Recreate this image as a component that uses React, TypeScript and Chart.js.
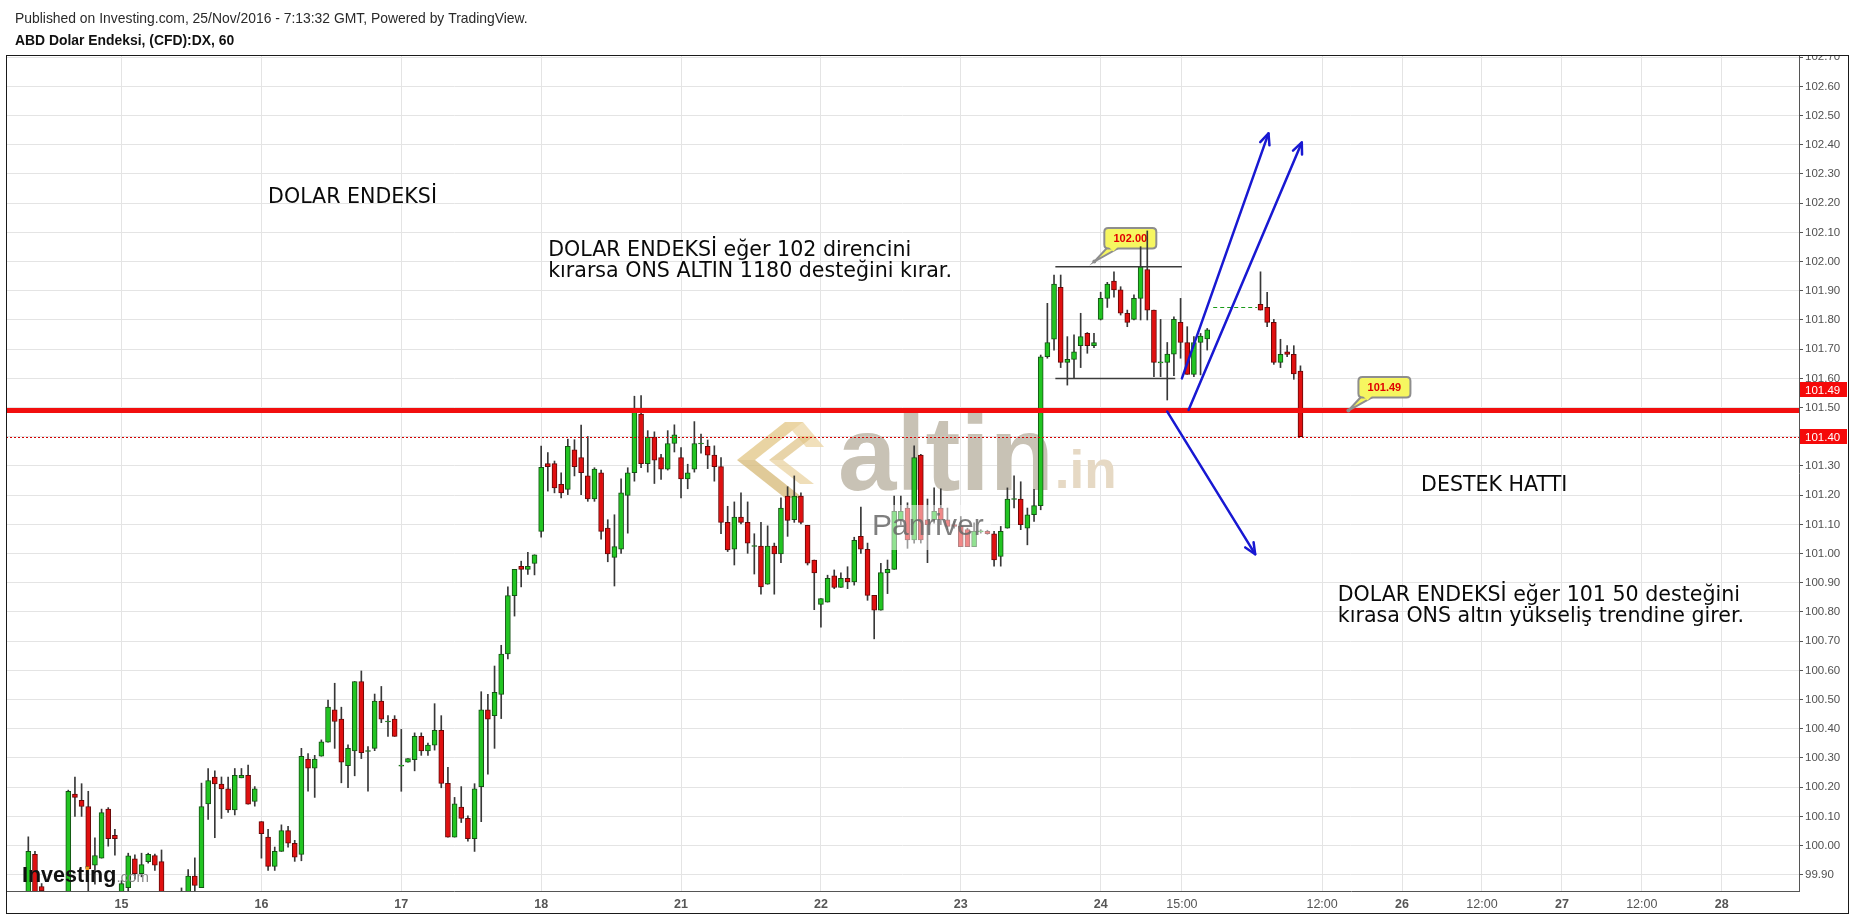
import { useEffect, useRef } from "react";
import { Chart, registerables } from "chart.js";

Chart.register(...registerables);

const W = 1851;
const H = 916;

// Hourly slots that hold a bar; the holiday pause on the 24th/25th stays empty.
const slotRuns: [number, number][] = [
  [3, 180],
  [188, 194],
];

// ABD Dolar Endeksi (CFD):DX, 60 dk. mumlar
const open = [
  99.80, 99.97, 99.86, 99.83, 99.78, 99.76, 99.80, 100.176, 100.155, 100.134,
  99.933, 99.957, 100.125, 100.035, 99.84, 99.856, 99.955, 99.904, 99.945, 99.966,
  99.945, 99.82, 99.78, 99.80, 99.83, 99.896, 99.856, 100.143, 100.235, 100.211,
  100.194, 100.122, 100.232, 100.241, 100.151, 100.082, 100.029, 99.929, 99.98, 100.051,
  100.008, 99.97, 100.296, 100.265, 100.306, 100.354, 100.465, 100.433, 100.274, 100.324,
  100.562, 100.324, 100.333, 100.495, 100.425, 100.433, 100.274, 100.286, 100.294, 100.374,
  100.324, 100.344, 100.395, 100.213, 100.029, 100.132, 100.093, 100.024, 100.202, 100.465,
  100.445, 100.518, 100.656, 100.856, 100.956, 100.946, 100.966, 101.076, 101.308, 101.308,
  101.237, 101.22, 101.355, 101.329, 101.266, 101.187, 101.277, 101.087, 100.987, 101.015,
  101.199, 101.277, 101.478, 101.308, 101.398, 101.329, 101.289, 101.377, 101.329, 101.256,
  101.289, 101.377, 101.367, 101.337, 101.298, 101.107, 101.015, 101.125, 101.107, 101.026,
  101.026, 100.895, 101.026, 100.999, 101.197, 101.116, 101.197, 101.097, 100.978, 100.826,
  100.834, 100.924, 100.884, 100.915, 100.903, 101.059, 101.015, 100.857, 100.806, 100.934,
  100.946, 101.116, 101.156, 101.047, 101.337, 101.116, 101.116, 101.156, 101.116, 101.099,
  101.093, 101.082, 101.024, 101.076, 101.076, 101.068, 100.99, 101.087, 101.187, 101.187,
  101.087, 101.133, 101.164, 101.674, 101.734, 101.912, 101.655, 101.665, 101.712, 101.754,
  101.712, 101.802, 101.874, 101.933, 101.903, 101.823, 101.802, 101.874, 101.973, 101.834,
  101.655, 101.655, 101.683, 101.792, 101.723, 101.614, 101.723, 101.735,
  101.854, 101.843, 101.792, 101.655, 101.691, 101.682, 101.625,
];

const high = [
  100.03, 99.98, 99.87, 99.84, 99.82, 99.83, 100.19, 100.235, 100.212, 100.186,
  100.027, 100.125, 100.13, 100.056, 99.88, 99.974, 99.968, 99.974, 99.974, 99.971,
  99.985, 99.83, 99.82, 99.855, 99.918, 99.958, 100.214, 100.264, 100.256, 100.235,
  100.235, 100.264, 100.264, 100.276, 100.202, 100.082, 100.056, 99.995, 100.071, 100.066,
  100.018, 100.333, 100.315, 100.309, 100.362, 100.498, 100.556, 100.474, 100.345, 100.562,
  100.598, 100.339, 100.519, 100.545, 100.445, 100.445, 100.398, 100.298, 100.386, 100.386,
  100.351, 100.486, 100.445, 100.268, 100.165, 100.202, 100.102, 100.212, 100.527, 100.518,
  100.615, 100.686, 100.886, 100.946, 100.974, 101.004, 100.996, 101.368, 101.346, 101.317,
  101.277, 101.392, 101.39, 101.44, 101.401, 101.294, 101.286, 101.116, 101.133, 101.256,
  101.294, 101.539, 101.541, 101.421, 101.417, 101.34, 101.421, 101.441, 101.363, 101.306,
  101.452, 101.409, 101.389, 101.369, 101.329, 101.162, 101.177, 101.208, 101.177, 101.068,
  101.107, 101.095, 101.036, 101.191, 101.229, 101.266, 101.208, 101.097, 100.978, 100.846,
  100.926, 100.944, 100.934, 100.955, 101.056, 101.159, 101.036, 100.857, 100.967, 100.978,
  101.197, 101.197, 101.174, 101.369, 101.34, 101.187, 101.225, 101.222, 101.156, 101.11,
  101.127, 101.087, 101.105, 101.082, 101.08, 101.076, 101.093, 101.225, 101.266, 101.246,
  101.156, 101.22, 101.68, 101.857, 101.954, 101.954, 101.743, 101.749, 101.823, 101.757,
  101.754, 101.895, 101.929, 101.965, 101.914, 101.834, 101.886, 102.051, 102.105, 101.834,
  101.802, 101.723, 101.811, 101.874, 101.777, 101.743, 101.754, 101.771,
  101.965, 101.895, 101.802, 101.734, 101.712, 101.712, 101.643,
];

const low = [
  99.78, 99.80, 99.83, 99.75, 99.72, 99.74, 99.79, 100.10, 100.10, 99.845,
  99.868, 99.957, 99.998, 99.967, 99.83, 99.838, 99.886, 99.893, 99.94, 99.915,
  99.80, 99.75, 99.74, 99.78, 99.82, 99.845, 99.856, 100.09, 100.027, 100.093,
  100.114, 100.105, 100.232, 100.142, 100.135, 99.957, 99.915, 99.915, 99.98, 99.995,
  99.946, 99.948, 100.186, 100.165, 100.306, 100.354, 100.333, 100.215, 100.198, 100.239,
  100.298, 100.186, 100.325, 100.421, 100.374, 100.374, 100.186, 100.286, 100.256, 100.309,
  100.309, 100.327, 100.198, 100.029, 100.029, 100.079, 100.015, 99.98, 100.082, 100.245,
  100.333, 100.435, 100.639, 100.786, 100.886, 100.929, 100.927, 101.056, 101.214, 101.208,
  101.191, 101.202, 101.266, 101.202, 101.179, 101.179, 101.049, 100.972, 100.889, 101.001,
  101.07, 101.248, 101.294, 101.279, 101.24, 101.254, 101.286, 101.348, 101.191, 101.222,
  101.279, 101.344, 101.291, 101.248, 101.068, 101.007, 100.961, 101.102, 101.001, 100.93,
  100.861, 100.895, 100.861, 100.969, 101.059, 101.107, 101.102, 100.961, 100.808, 100.748,
  100.834, 100.88, 100.884, 100.88, 100.892, 101.001, 100.84, 100.708, 100.806, 100.863,
  100.946, 101.099, 101.018, 101.036, 101.036, 100.969, 101.104, 101.099, 101.082, 101.087,
  101.024, 101.024, 101.024, 101.07, 101.066, 100.957, 100.957, 101.087, 101.156, 101.082,
  101.03, 101.11, 101.15, 101.669, 101.697, 101.637, 101.577, 101.60, 101.637, 101.686,
  101.705, 101.80, 101.843, 101.878, 101.817, 101.777, 101.80, 101.80, 101.80, 101.606,
  101.606, 101.526, 101.609, 101.669, 101.614, 101.606, 101.612, 101.697,
  101.834, 101.777, 101.648, 101.637, 101.674, 101.597, 101.40,
];

const close = [
  99.98, 99.82, 99.845, 99.78, 99.76, 99.80, 100.186, 100.165, 100.134, 99.921,
  99.966, 100.113, 100.024, 100.024, 99.87, 99.965, 99.904, 99.935, 99.97, 99.933,
  99.82, 99.78, 99.80, 99.82, 99.896, 99.864, 100.134, 100.223, 100.211, 100.194,
  100.122, 100.241, 100.241, 100.142, 100.194, 100.041, 99.929, 99.98, 100.051, 100.008,
  99.96, 100.306, 100.265, 100.296, 100.355, 100.474, 100.425, 100.286, 100.333, 100.562,
  100.318, 100.324, 100.495, 100.433, 100.425, 100.374, 100.274, 100.298, 100.374, 100.324,
  100.344, 100.395, 100.213, 100.029, 100.143, 100.093, 100.024, 100.194, 100.465, 100.433,
  100.525, 100.656, 100.856, 100.946, 100.946, 100.956, 100.996, 101.295, 101.298, 101.225,
  101.208, 101.367, 101.298, 101.277, 101.187, 101.289, 101.076, 100.999, 101.024, 101.208,
  101.277, 101.487, 101.308, 101.398, 101.32, 101.289, 101.377, 101.407, 101.256, 101.277,
  101.377, 101.377, 101.337, 101.298, 101.107, 101.013, 101.125, 101.107, 101.036, 101.026,
  100.886, 101.026, 100.999, 101.156, 101.114, 101.197, 101.107, 100.967, 100.934, 100.846,
  100.915, 100.884, 100.915, 100.903, 101.045, 101.015, 100.857, 100.806, 100.935, 100.946,
  101.145, 101.145, 101.047, 101.329, 101.047, 101.099, 101.145, 101.116, 101.093, 101.093,
  101.024, 101.024, 101.076, 101.076, 101.068, 100.978, 101.076, 101.187, 101.187, 101.099,
  101.133, 101.164, 101.674, 101.723, 101.923, 101.655, 101.665, 101.691, 101.743, 101.712,
  101.723, 101.874, 101.923, 101.903, 101.823, 101.792, 101.874, 101.983, 101.834, 101.655,
  101.655, 101.683, 101.802, 101.723, 101.614, 101.723, 101.745, 101.766,
  101.834, 101.792, 101.655, 101.682, 101.682, 101.615, 101.40,
];

// Price axis
const yTickValues = [
  99.9, 100.0, 100.1, 100.2, 100.3, 100.4, 100.5, 100.6, 100.7, 100.8, 100.9, 101.0,
  101.1, 101.2, 101.3, 101.4, 101.5, 101.6, 101.7, 101.8, 101.9, 102.0, 102.1, 102.2,
  102.3, 102.4, 102.5, 102.6, 102.7,
];
const yMin = 99.8445;
const yMax = 102.7075;

// Time axis (slot positions and their labels)
const xTickSlots = [17, 38, 59, 80, 101, 122, 143, 164, 176.2, 197.25, 209.25, 221.25, 233.25, 245.25, 257.25];
const xTickLabels = ["15", "16", "17", "18", "21", "22", "23", "24", "15:00", "12:00", "26", "12:00", "27", "12:00", "28"];
const xMin = -0.35;
const xMax = 268.85;

// Drawn levels and tools
const supportLevel = 101.49;
const resistanceMark = 102.0;
const rangeTop = { from: 157.2, to: 176.2, value: 101.982 };
const rangeBottom = { from: 157.2, to: 175.2, value: 101.6 };
const gapLine = { from: 180.9, to: 187.5, value: 101.843 };
const arrows = [
  { s0: 176.2, v0: 101.6, s1: 189.2, v1: 102.439 },
  { s0: 177.2, v0: 101.492, s1: 194.2, v1: 102.408 },
  { s0: 174.0, v0: 101.486, s1: 187.2, v1: 100.998 },
];
const callouts = [
  { slot: 163.05, value: resistanceMark },
  { slot: 201.2, value: supportLevel },
];
const notes = [
  { slot: 39.0, value: 102.202, lines: ["DOLAR ENDEKSİ"] },
  { slot: 81.05, value: 102.019, lines: ["DOLAR ENDEKSİ eğer 102 direncini", "kırarsa ONS ALTIN 1180 desteğini kırar."] },
  { slot: 212.1, value: 101.215, lines: ["DESTEK HATTI"] },
  { slot: 199.6, value: 100.836, lines: ["DOLAR ENDEKSİ eğer 101 50 desteğini", "kırasa ONS altın yükseliş trendine girer."] },
];
const NOTE_LINE_GAP = 20.5;

const slots: number[] = [];
slotRuns.forEach(([a, b]) => {
  for (let s = a; s <= b; s++) slots.push(s);
});

const lastClose = close[close.length - 1];

const UP_FILL = "#22c422";
const UP_EDGE = "#145214";
const DOWN_FILL = "#e01010";
const DOWN_EDGE = "#650808";

const SANS = '"Liberation Sans", Arial, sans-serif';
const NOTE_FONT = '20.6px "DejaVu Sans", Verdana, sans-serif';

function drawArrow(ctx: CanvasRenderingContext2D, x0: number, y0: number, x1: number, y1: number) {
  ctx.beginPath();
  ctx.moveTo(x0, y0);
  ctx.lineTo(x1, y1);
  ctx.stroke();
  const ang = Math.atan2(y1 - y0, x1 - x0);
  const len = 12;
  const spread = 0.42;
  ctx.beginPath();
  ctx.moveTo(x1 - len * Math.cos(ang - spread), y1 - len * Math.sin(ang - spread));
  ctx.lineTo(x1, y1);
  ctx.lineTo(x1 - len * Math.cos(ang + spread), y1 - len * Math.sin(ang + spread));
  ctx.stroke();
}

function roundRect(ctx: CanvasRenderingContext2D, x: number, y: number, w: number, h: number, r: number) {
  ctx.beginPath();
  ctx.moveTo(x + r, y);
  ctx.lineTo(x + w - r, y);
  ctx.quadraticCurveTo(x + w, y, x + w, y + r);
  ctx.lineTo(x + w, y + h - r);
  ctx.quadraticCurveTo(x + w, y + h, x + w - r, y + h);
  ctx.lineTo(x + r, y + h);
  ctx.quadraticCurveTo(x, y + h, x, y + h - r);
  ctx.lineTo(x, y + r);
  ctx.quadraticCurveTo(x, y, x + r, y);
  ctx.closePath();
}

function drawCallout(ctx: CanvasRenderingContext2D, ax: number, ay: number, text: string) {
  const bx = ax + 10;
  const bw = 52;
  const bh = 20.5;
  const bb = ay - 13;
  const bt = bb - bh;
  ctx.save();
  // tail
  ctx.beginPath();
  ctx.moveTo(bx + 3, bb - 1);
  ctx.lineTo(ax, ay);
  ctx.lineTo(bx + 15, bb - 1);
  ctx.closePath();
  ctx.fillStyle = "#f6f660";
  ctx.strokeStyle = "#8e8e8e";
  ctx.lineWidth = 2;
  ctx.fill();
  ctx.stroke();
  // box
  roundRect(ctx, bx, bt, bw, bh, 4);
  ctx.fill();
  ctx.stroke();
  ctx.beginPath();
  ctx.moveTo(bx + 4.5, bb - 1.5);
  ctx.lineTo(bx + 13.5, bb - 1.5);
  ctx.lineTo(bx + 9, bb + 3);
  ctx.closePath();
  ctx.fill();
  // text
  ctx.fillStyle = "#e00000";
  ctx.font = `bold 11px ${SANS}`;
  ctx.textAlign = "center";
  ctx.textBaseline = "middle";
  ctx.fillText(text, bx + bw / 2, bt + bh / 2 + 0.5);
  // anchor point
  ctx.beginPath();
  ctx.arc(ax, ay, 2, 0, Math.PI * 2);
  ctx.fillStyle = "#8e8e8e";
  ctx.fill();
  ctx.restore();
}

const overlayPlugin = {
  id: "dxOverlay",
  beforeDatasetsDraw(chart: any) {
    const { ctx, chartArea: a } = chart;
    const xs = chart.scales.x;
    const ys = chart.scales.y;
    ctx.save();
    ctx.beginPath();
    ctx.rect(a.left, a.top, a.right - a.left, a.bottom - a.top);
    ctx.clip();

    // altin.in mark behind the candles
    const L = a.left;
    const T = a.top;
    const poly = (pts: number[][], color: string) => {
      ctx.beginPath();
      ctx.moveTo(L + pts[0][0], T + pts[0][1]);
      for (let i = 1; i < pts.length; i++) ctx.lineTo(L + pts[i][0], T + pts[i][1]);
      ctx.closePath();
      ctx.fillStyle = color;
      ctx.fill();
    };
    poly([[731, 405], [779, 367], [797, 367], [749, 405]], "rgba(226,198,132,0.75)");
    poly([[731, 405], [749, 405], [797, 443], [779, 443]], "rgba(214,184,118,0.75)");
    poly([[779, 367], [797, 367], [818, 392], [800, 392]], "rgba(236,214,164,0.75)");
    poly([[763, 405], [794, 381], [808, 381], [777, 405]], "rgba(222,194,132,0.7)");
    poly([[763, 405], [777, 405], [808, 429], [794, 429]], "rgba(232,208,155,0.7)");

    ctx.font = `bold 105px ${SANS}`;
    ctx.fillStyle = "#c8c2b5";
    ctx.textBaseline = "alphabetic";
    ctx.textAlign = "left";
    ctx.fillText("altin", L + 832, T + 435);
    const wAltin = ctx.measureText("altin").width;
    ctx.font = `bold 53px ${SANS}`;
    ctx.fillStyle = "#e6d9c4";
    ctx.fillText(".in", L + 832 + wAltin + 1, T + 433);

    // 102.00 note sits under the wicks that poke through it
    const c0 = callouts[0];
    drawCallout(ctx, xs.getPixelForValue(c0.slot), ys.getPixelForValue(c0.value), c0.value.toFixed(2));
    ctx.restore();
  },
  afterDatasetsDraw(chart: any) {
    const { ctx, chartArea: a } = chart;
    const xs = chart.scales.x;
    const ys = chart.scales.y;
    const X = (s: number) => xs.getPixelForValue(s);
    const Y = (v: number) => ys.getPixelForValue(v);
    ctx.save();
    ctx.beginPath();
    ctx.rect(a.left, a.top, a.right - a.left, a.bottom - a.top);
    ctx.clip();

    // Panriver stamp with its pale backing
    ctx.fillStyle = "rgba(255,255,255,0.5)";
    ctx.fillRect(a.left + 879, a.top + 450, 106, 45);
    ctx.font = `30px ${SANS}`;
    ctx.fillStyle = "rgba(105,105,105,0.85)";
    ctx.textAlign = "left";
    ctx.textBaseline = "alphabetic";
    ctx.fillText("Panriver", a.left + 866, a.top + 480);

    // last price (dashed) and support level (thick)
    ctx.strokeStyle = "#d40000";
    ctx.lineWidth = 1;
    ctx.setLineDash([2, 2]);
    ctx.beginPath();
    ctx.moveTo(a.left, Math.round(Y(lastClose)) + 0.5);
    ctx.lineTo(a.right, Math.round(Y(lastClose)) + 0.5);
    ctx.stroke();
    ctx.setLineDash([]);

    ctx.strokeStyle = "#f20f0f";
    ctx.lineWidth = 5;
    ctx.beginPath();
    ctx.moveTo(a.left, Y(supportLevel));
    ctx.lineTo(a.right, Y(supportLevel));
    ctx.stroke();

    // consolidation box edges
    ctx.strokeStyle = "#3c3c3c";
    ctx.lineWidth = 1.5;
    [rangeTop, rangeBottom].forEach((r) => {
      ctx.beginPath();
      ctx.moveTo(X(r.from), Y(r.value));
      ctx.lineTo(X(r.to), Y(r.value));
      ctx.stroke();
    });

    // session gap marker
    ctx.strokeStyle = "#1a9a1a";
    ctx.lineWidth = 1;
    ctx.setLineDash([4, 3]);
    ctx.beginPath();
    ctx.moveTo(X(gapLine.from), Math.round(Y(gapLine.value)) + 0.5);
    ctx.lineTo(X(gapLine.to), Math.round(Y(gapLine.value)) + 0.5);
    ctx.stroke();
    ctx.setLineDash([]);

    // scenario arrows
    ctx.strokeStyle = "#1818d2";
    ctx.lineWidth = 2.5;
    ctx.lineCap = "round";
    ctx.lineJoin = "round";
    arrows.forEach((ar) => drawArrow(ctx, X(ar.s0), Y(ar.v0), X(ar.s1), Y(ar.v1)));

    // 101.49 note
    const c1 = callouts[1];
    drawCallout(ctx, X(c1.slot), Y(c1.value), c1.value.toFixed(2));

    // free text
    ctx.fillStyle = "#0a0a0a";
    ctx.font = NOTE_FONT;
    ctx.textAlign = "left";
    ctx.textBaseline = "alphabetic";
    notes.forEach((n) => {
      n.lines.forEach((line, k) => ctx.fillText(line, X(n.slot), Y(n.value) + k * NOTE_LINE_GAP));
    });

    // Investing.com mark
    ctx.font = `bold 21.5px ${SANS}`;
    ctx.fillStyle = "#111";
    const lx = a.left + 16;
    const ly = a.bottom - 9;
    ctx.fillText("Investing", lx, ly);
    const wInv = ctx.measureText("Investing").width;
    const wPre = ctx.measureText("Invest").width;
    ctx.fillStyle = "#f39a1e";
    ctx.fillRect(lx + wPre + 1.5, ly - 15.5, 3.5, 3.5);
    ctx.font = `15px ${SANS}`;
    ctx.fillStyle = "#8a8a8a";
    ctx.fillText(".com", lx + wInv, ly);
    ctx.restore();
  },
  afterDraw(chart: any) {
    const { ctx, chartArea: a } = chart;
    const ys = chart.scales.y;
    ctx.save();
    // hide the part of the top price label above the frame
    ctx.fillStyle = "#fff";
    ctx.fillRect(a.right + 1, 30, W - a.right - 1, a.top - 30);

    // price flags on the scale
    const flag = (yc: number, text: string) => {
      ctx.fillStyle = "#f50a0a";
      ctx.fillRect(a.right + 1, Math.round(yc - 7.5), 47, 15);
      ctx.fillStyle = "#fff";
      ctx.font = `11.5px ${SANS}`;
      ctx.textAlign = "left";
      ctx.textBaseline = "middle";
      ctx.fillText(text, a.right + 6, Math.round(yc) + 0.5);
    };
    flag(ys.getPixelForValue(supportLevel) - 21, supportLevel.toFixed(2));
    flag(ys.getPixelForValue(lastClose), lastClose.toFixed(2));

    // outer frame
    ctx.strokeStyle = "#1a1a1a";
    ctx.lineWidth = 1;
    ctx.strokeRect(a.left + 0.5, a.top + 0.5, 1848 - a.left, 913 - a.top);

    // header
    ctx.fillStyle = "#2a2a2a";
    ctx.font = `13.9px ${SANS}`;
    ctx.textAlign = "left";
    ctx.textBaseline = "alphabetic";
    ctx.fillText("Published on Investing.com, 25/Nov/2016 - 7:13:32 GMT, Powered by TradingView.", 15, 22.5);
    ctx.fillStyle = "#111";
    ctx.font = `bold 13.9px ${SANS}`;
    ctx.fillText("ABD Dolar Endeksi, (CFD):DX, 60", 15, 44.5);
    ctx.restore();
  },
};

export default function App() {
  const ref = useRef<HTMLCanvasElement>(null);

  useEffect(() => {
    if (!ref.current) return;
    const up = slots.map((_, i) => close[i] >= open[i]);
    const bodies = slots.map((s, i) => ({
      x: s,
      y: open[i] === close[i] ? [close[i] - 0.0018, close[i] + 0.0018] : [open[i], close[i]],
    }));
    const wicks = slots.map((s, i) => ({ x: s, y: [low[i], high[i]] }));

    const chart = new Chart(ref.current, {
      type: "bar",
      data: {
        datasets: [
          {
            data: bodies as any,
            backgroundColor: up.map((u) => (u ? UP_FILL : DOWN_FILL)),
            borderColor: up.map((u) => (u ? UP_EDGE : DOWN_EDGE)),
            borderWidth: 1,
            borderSkipped: false,
            barThickness: 5,
            grouped: false,
            order: 0,
            clip: 0,
          } as any,
          {
            data: wicks as any,
            backgroundColor: "#383838",
            borderWidth: 0,
            barThickness: 1,
            grouped: false,
            order: 1,
            clip: 0,
          } as any,
        ],
      },
      options: {
        responsive: false,
        devicePixelRatio: 1,
        animation: false,
        events: [],
        layout: { padding: { left: 6, top: 55, right: 3, bottom: 3 } },
        plugins: { legend: { display: false }, tooltip: { enabled: false }, title: { display: false } },
        scales: {
          x: {
            type: "linear",
            min: xMin,
            max: xMax,
            offset: false,
            afterFit: (s: any) => {
              s.height = 22;
            },
            afterBuildTicks: (s: any) => {
              s.ticks = xTickSlots.map((v) => ({ value: v }));
            },
            grid: { offset: false, color: "#e4e4e4", drawTicks: false },
            border: { display: true, color: "#555", width: 1 },
            ticks: {
              autoSkip: false,
              maxRotation: 0,
              padding: 6,
              color: "#555",
              font: (c: any) => ({
                family: '"Liberation Sans Narrow", "Liberation Sans", Arial, sans-serif',
                size: 12.5,
                weight: (xTickLabels[c.index] || "").includes(":") ? "normal" : "bold",
              }),
              callback: (_v: any, i: number) => xTickLabels[i],
            },
          } as any,
          y: {
            type: "linear",
            position: "right",
            min: yMin,
            max: yMax,
            afterFit: (s: any) => {
              s.width = 49;
            },
            afterBuildTicks: (s: any) => {
              s.ticks = yTickValues.map((v) => ({ value: v }));
            },
            grid: { color: "#e4e4e4", tickColor: "#555", tickLength: 4, drawTicks: true },
            border: { display: true, color: "#555", width: 1 },
            ticks: {
              padding: 2,
              color: "#505050",
              font: { family: SANS, size: 11.5 },
              callback: (v: any) => Number(v).toFixed(2),
            },
          } as any,
        },
      },
      plugins: [overlayPlugin],
    });
    return () => chart.destroy();
  }, []);

  return (
    <div style={{ position: "fixed", left: 0, top: 0, width: W, height: H, background: "#fff" }}>
      <canvas ref={ref} width={W} height={H} style={{ display: "block", width: W, height: H }} />
    </div>
  );
}
